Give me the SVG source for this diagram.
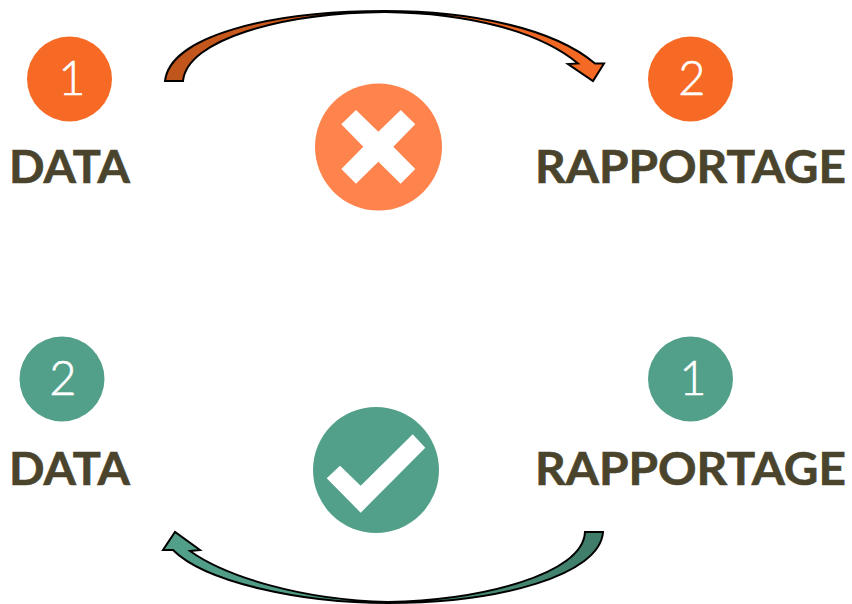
<svg xmlns="http://www.w3.org/2000/svg" width="852" height="604" viewBox="0 0 852 604">
<style>
.num{font-family:Lato,"Open Sans",sans-serif;font-weight:300;font-size:47px;fill:#fff;stroke:#fff;stroke-width:0.6;text-anchor:middle}
.lab{font-family:Lato,"Open Sans",sans-serif;font-weight:700;font-size:46px;fill:#4A442D;stroke:#4A442D;stroke-width:0.6;text-anchor:middle}
.arr{stroke:#000;stroke-width:2;stroke-linejoin:miter}
.or{fill:#F66A25}.gr{fill:#52A08A}
</style>
<defs>
<linearGradient id="go" x1="0" x2="1" y1="0" y2="0"><stop offset="0" stop-color="#BE551C"/><stop offset="0.6" stop-color="#E4621F"/><stop offset="1" stop-color="#F66A25"/></linearGradient>
<linearGradient id="gg" x1="0" x2="1" y1="0" y2="0"><stop offset="0" stop-color="#52A08A"/><stop offset="0.5" stop-color="#4D9680"/><stop offset="1" stop-color="#3F7C69"/></linearGradient>
</defs>
<rect width="852" height="604" fill="#fff"/>
<g id="connectors">
<path class="arr" fill="url(#go)" d="M165,81 C170,36 270,11 385,11 C470,11 553,28 595,63.5 L604,63.5 L593,81 L568,64 L578,63.5 C540,32 470,13 385,12 C280,13 187,40 183,81 Z"/>
<path class="arr" fill="url(#gg)" d="M603,532 C600,575 500,603 388,603 C300,603 205,582 173,550 L163,550 L175,532 L200,550 L190,551 C225,576 300,600 388,602 C480,600 583,575 585,532 Z"/>
</g>
<g id="node-data-top"><circle class="or" cx="69.5" cy="79" r="42.5"/><text class="num" x="72" y="95">1</text><text class="lab" x="69.5" y="183" textLength="121" lengthAdjust="spacingAndGlyphs">DATA</text></g>
<g id="node-rapportage-top"><circle class="or" cx="690.5" cy="79" r="42.5"/><text class="num" x="692" y="95">2</text><text class="lab" x="690.5" y="183" textLength="311" lengthAdjust="spacingAndGlyphs">RAPPORTAGE</text></g>
<g id="node-cross"><circle cx="378.5" cy="147" r="63.5" fill="#FF834D"/><polygon fill="#fff" points="356,110 378.3,131.7 400.7,110 415.3,124.3 393.3,146.7 415.3,169 400.7,183.7 378.3,161.7 356,183.7 341.3,169 363.3,146.7 341.3,124.3"/></g>
<g id="node-data-bottom"><circle class="gr" cx="62" cy="379" r="42.5"/><text class="num" x="63" y="395">2</text><text class="lab" x="69.5" y="485" textLength="121" lengthAdjust="spacingAndGlyphs">DATA</text></g>
<g id="node-rapportage-bottom"><circle class="gr" cx="690.5" cy="379" r="42.5"/><text class="num" x="693" y="395">1</text><text class="lab" x="690.5" y="485" textLength="311" lengthAdjust="spacingAndGlyphs">RAPPORTAGE</text></g>
<g id="node-check"><circle class="gr" cx="376" cy="470" r="63"/><polygon fill="#fff" points="412.7,434.3 425.3,447.7 360.7,512.7 326.7,478.3 340,465.7 360.7,485.7"/></g>
</svg>
